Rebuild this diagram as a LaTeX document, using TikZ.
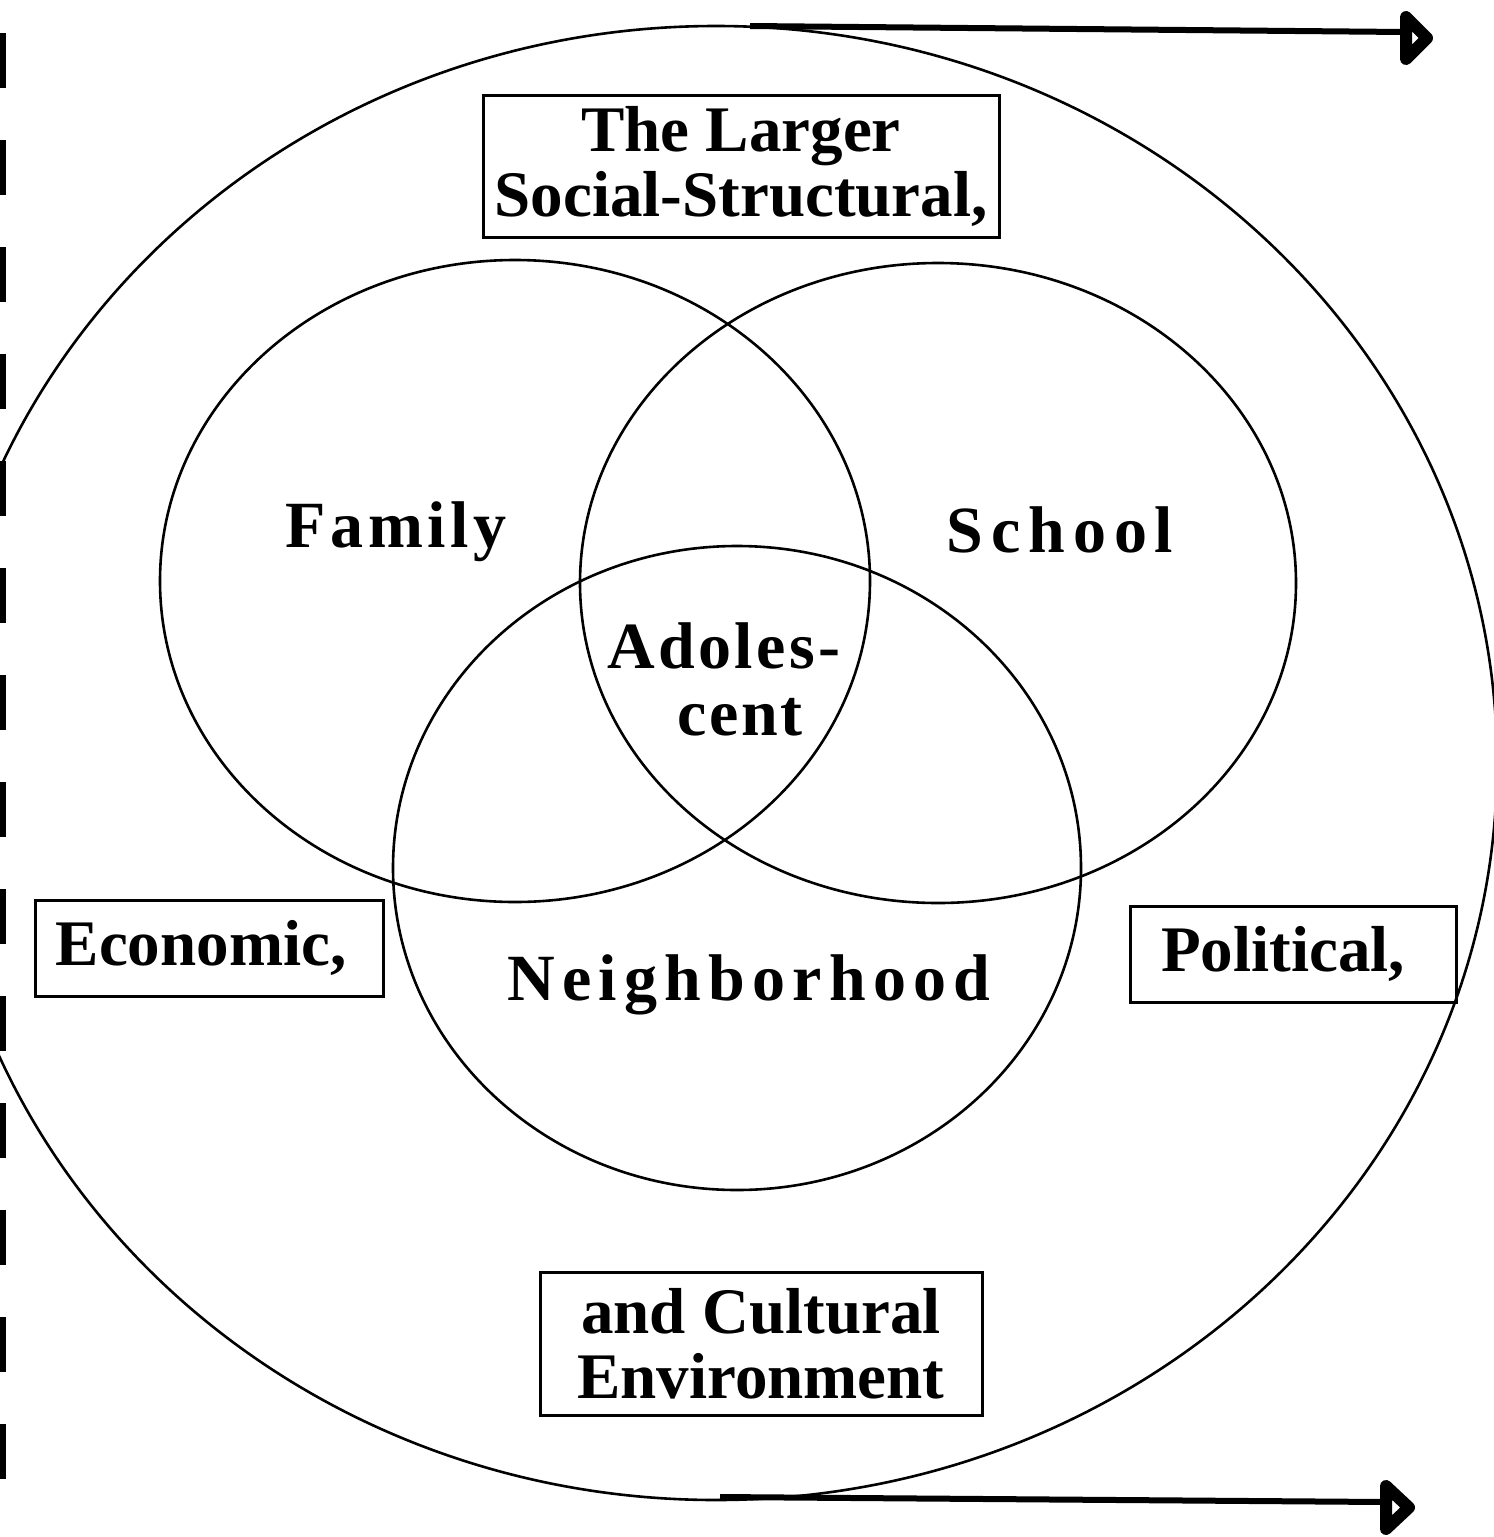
\documentclass[tikz,border=0pt]{standalone}
\usepackage{fontspec}
\setmainfont{Liberation Serif}
\usetikzlibrary{shapes.geometric}
\newcommand\boxfont{\bfseries\fontsize{65}{65}\selectfont}
\newcommand\ringfont{\bfseries\fontsize{66}{66}\selectfont}
\begin{document}
\begin{tikzpicture}[x=1pt,y=-1pt,
  ring/.style={draw, ellipse, line width=2.6pt, inner sep=0pt, outer sep=0pt},
  framebox/.style={draw, line width=3pt, inner sep=0pt, outer sep=0pt, align=center, font=\boxfont},
  ringtext/.style={font=\ringfont, anchor=base, inner sep=0pt},
  flow/.style={line width=6pt},
  head/.style={line width=12pt, line join=round, fill=white},
]
\useasboundingbox (0,0) rectangle (1494,1537);

% left margin rule
\draw[line width=6pt, dash pattern=on 55pt off 52pt] (3,33) -- (3,1485);

% environment ellipse
\node[ring, minimum width=1562pt, minimum height=1474pt] (env) at (716,763) {};

% three overlapping settings
\node[ring, minimum width=710pt, minimum height=642pt] (family) at (515,581) {};
\node[ring, minimum width=716pt, minimum height=640pt] (school) at (938,583) {};
\node[ring, minimum width=688pt, minimum height=644pt] (hood) at (737,868) {};

% ring labels
\node[ringtext] (famtxt) at (396,547) {\addfontfeatures{LetterSpace=7}Family};
\node[ringtext] (schtxt) at (1060,552) {\addfontfeatures{LetterSpace=12}School};
\node[ringtext] (adol1) at (724,668) {\addfontfeatures{LetterSpace=5}Adoles-};
\node[ringtext] (adol2) at (740,735) {\addfontfeatures{LetterSpace=4}cent};
\node[ringtext] (hoodtxt) at (749,1000) {\addfontfeatures{LetterSpace=11}Neighborhood};

% framed captions
\node[framebox, minimum width=516pt, minimum height=142pt] (larger) at (741,166) {The Larger\\Social-Structural,};
\node[framebox, minimum width=348pt, minimum height=96pt] (econ) at (209,948) {Economic,\hspace*{16pt}};
\node[framebox, minimum width=326pt, minimum height=96pt] (polit) at (1293,954) {Political,\hspace*{20pt}};
\node[framebox, minimum width=442pt, minimum height=143pt] (cult) at (761,1344) {and Cultural\\Environment};

% outgoing arrows
\coordinate (ta) at (750,26);
\coordinate (tb) at (1404,32);
\coordinate (ba) at (720,1497);
\coordinate (bb) at (1384,1502);
\draw[flow] (ta) -- (tb);
\draw[flow] (ba) -- (bb);
\draw[head] (1406,17) -- (1427,38) -- (1406,59) -- cycle;
\draw[head] (1386,1486) -- (1409,1507.5) -- (1386,1529) -- cycle;
\end{tikzpicture}
\end{document}
